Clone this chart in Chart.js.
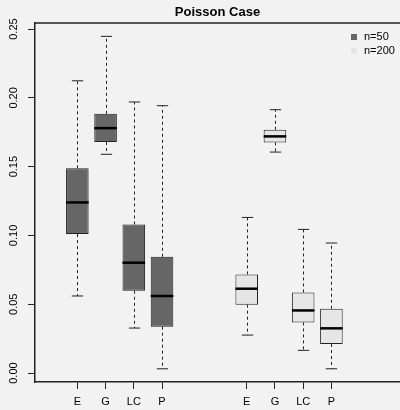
<!DOCTYPE html>
<html lang="en">
<head>
    <meta charset="UTF-8">
    <title>Poisson Case</title>
    <script src="https://cdn.jsdelivr.net/npm/chart.js"></script>
    <style>
        body { margin: 0; background: #f2f2f2; }
        #wrap { width: 400px; height: 410px; }
    </style>
</head>
<body>
    <div id="wrap"><canvas id="boxChart"></canvas></div>

    <script>
        // box positions and labels
        const methods = ['E', 'G', 'LC', 'P'];
        const seriesNames = ['n=50', 'n=200'];
        const pos50 = [1, 2, 3, 4];
        const pos200 = [7, 8, 9, 10];
        const yTicks = [0, 0.05, 0.10, 0.15, 0.20, 0.25];

        // n=50 summaries (whisker low, Q1, median, Q3, whisker high)
        const low50 = [0.056, 0.159, 0.0327, 0.0031];
        const q1_50 = [0.101, 0.1679, 0.0598, 0.0337];
        const med50 = [0.124, 0.178, 0.0802, 0.056];
        const q3_50 = [0.1488, 0.1884, 0.108, 0.0845];
        const high50 = [0.2124, 0.2447, 0.197, 0.1943];

        // n=200 summaries
        const low200 = [0.0276, 0.1606, 0.0165, 0.0031];
        const q1_200 = [0.0497, 0.1676, 0.0368, 0.0211];
        const med200 = [0.0613, 0.172, 0.0455, 0.0325];
        const q3_200 = [0.0717, 0.1768, 0.0586, 0.0467];
        const high200 = [0.1131, 0.1914, 0.1044, 0.0945];

        const allPos = pos50.concat(pos200);
        const font = "'Liberation Sans', Arial, Helvetica, sans-serif";

        function boxes(pos, q1, q3) {
            return pos.map((p, i) => ({ x: p, y: [q1[i], q3[i]] }));
        }

        // whiskers, caps, medians, top frame line and legend
        const boxExtras = {
            id: 'boxExtras',
            afterDatasetsDraw(chart) {
                const ctx = chart.ctx;
                const y = chart.scales.y;
                chart.data.datasets.forEach((ds, di) => {
                    const meta = chart.getDatasetMeta(di);
                    meta.data.forEach((bar, i) => {
                        const cx = Math.round(bar.x) + 0.5;
                        const half = bar.width / 2;
                        const yLow = y.getPixelForValue(ds.low[i]);
                        const yHigh = y.getPixelForValue(ds.high[i]);
                        const yQ1 = y.getPixelForValue(ds.data[i].y[0]);
                        const yQ3 = y.getPixelForValue(ds.data[i].y[1]);
                        const yMed = y.getPixelForValue(ds.med[i]);
                        ctx.save();
                        ctx.strokeStyle = '#222';
                        ctx.lineWidth = 1;
                        ctx.setLineDash([3, 3]);
                        ctx.beginPath();
                        ctx.moveTo(cx, yQ3); ctx.lineTo(cx, yHigh);
                        ctx.moveTo(cx, yQ1); ctx.lineTo(cx, yLow);
                        ctx.stroke();
                        ctx.setLineDash([]);
                        ctx.beginPath();
                        ctx.moveTo(cx - half / 2, yHigh); ctx.lineTo(cx + half / 2, yHigh);
                        ctx.moveTo(cx - half / 2, yLow); ctx.lineTo(cx + half / 2, yLow);
                        ctx.stroke();
                        ctx.strokeStyle = '#000';
                        ctx.lineWidth = 2.5;
                        ctx.beginPath();
                        ctx.moveTo(bar.x - half, yMed); ctx.lineTo(bar.x + half, yMed);
                        ctx.stroke();
                        ctx.restore();
                    });
                });
            },
            afterDraw(chart) {
                const ctx = chart.ctx;
                const area = chart.chartArea;
                ctx.save();
                ctx.strokeStyle = '#222';
                ctx.lineWidth = 1.5;
                ctx.beginPath();
                ctx.moveTo(area.left, area.top);
                ctx.lineTo(area.right, area.top);
                ctx.stroke();
                // legend
                ctx.font = '11px ' + font;
                ctx.textBaseline = 'middle';
                ctx.textAlign = 'left';
                chart.data.datasets.forEach((ds, i) => {
                    const ly = area.top + 14 + i * 14;
                    ctx.fillStyle = ds.backgroundColor;
                    ctx.fillRect(area.right - 49, ly - 3, 6, 6);
                    ctx.fillStyle = '#000';
                    ctx.fillText(ds.label, area.right - 36, ly);
                });
                ctx.restore();
            }
        };

        const ctx = document.getElementById('boxChart').getContext('2d');
        const boxChart = new Chart(ctx, {
            type: 'bar',
            data: {
                datasets: [{
                    label: seriesNames[0],
                    data: boxes(pos50, q1_50, q3_50),
                    low: low50, med: med50, high: high50,
                    backgroundColor: '#666666',
                    borderColor: '#222',
                    borderWidth: 1,
                    borderSkipped: false
                }, {
                    label: seriesNames[1],
                    data: boxes(pos200, q1_200, q3_200),
                    low: low200, med: med200, high: high200,
                    backgroundColor: '#e6e6e6',
                    borderColor: '#222',
                    borderWidth: 1,
                    borderSkipped: false
                }]
            },
            options: {
                responsive: true,
                maintainAspectRatio: false,
                animation: false,
                grouped: false,
                barPercentage: 0.8,
                categoryPercentage: 1,
                layout: { padding: 0 },
                plugins: {
                    legend: { display: false },
                    tooltip: { enabled: false },
                    title: {
                        display: true,
                        text: 'Poisson Case',
                        fullSize: false,
                        color: '#000',
                        font: { family: font, size: 13, weight: 'bold' },
                        padding: { top: 5, bottom: 2.4 }
                    }
                },
                scales: {
                    x: {
                        type: 'linear',
                        offset: false,
                        min: -0.5,
                        max: 12.43,
                        afterBuildTicks: s => { s.ticks = allPos.map(v => ({ value: v })); },
                        afterFit: s => { s.height = 28; },
                        grid: { display: true, offset: false, drawOnChartArea: false, drawTicks: true, tickLength: 7, color: '#222' },
                        border: { display: true, color: '#222', width: 1.5 },
                        ticks: {
                            color: '#000',
                            padding: 6,
                            maxRotation: 0,
                            font: { family: font, size: 11 },
                            callback: v => methods[allPos.indexOf(v) % 4]
                        }
                    },
                    y: {
                        min: -0.0065,
                        max: 0.2544,
                        afterBuildTicks: s => { s.ticks = yTicks.map(v => ({ value: v })); },
                        afterFit: s => { s.width = 35; },
                        grid: { display: true, drawOnChartArea: false, drawTicks: true, tickLength: 7, color: '#222' },
                        border: { display: true, color: '#222', width: 1.5 },
                        ticks: {
                            color: '#000',
                            padding: 3,
                            minRotation: 90,
                            maxRotation: 90,
                            crossAlign: 'center',
                            font: { family: font, size: 11 },
                            callback: v => v.toFixed(2)
                        }
                    }
                }
            },
            plugins: [boxExtras]
        });
    </script>
</body>
</html>
